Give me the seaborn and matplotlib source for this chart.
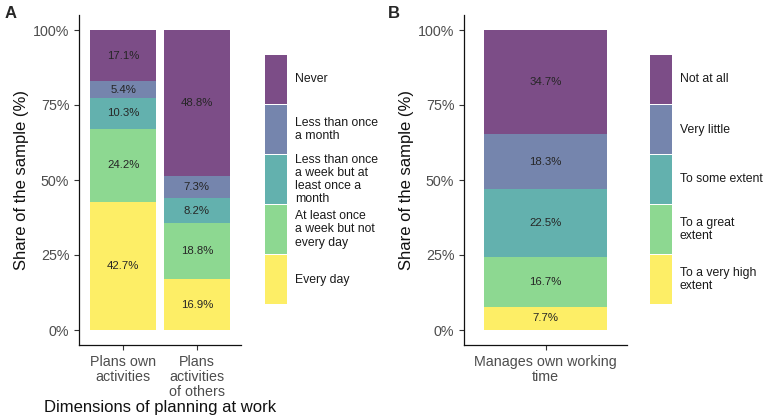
import numpy as np
import pandas as pd
import matplotlib
matplotlib.use('Agg')
import matplotlib.pyplot as plt
from matplotlib.patches import Rectangle
from matplotlib.ticker import PercentFormatter
import seaborn as sns

# Panel A data
items_a = ['Plans own\nactivities', 'Plans\nactivities\nof others']
levels_a = ['Never', 'Less than once\na month', 'Less than once\na week but at\nleast once a\nmonth',
            'At least once\na week but not\nevery day', 'Every day']
own_a = [17.1, 5.4, 10.3, 24.2, 42.7]
others_a = [48.8, 7.3, 8.2, 18.8, 16.9]

# Panel B data
items_b = ['Manages own working\ntime']
levels_b = ['Not at all', 'Very little', 'To some extent', 'To a great\nextent', 'To a very high\nextent']
manages_b = [34.7, 18.3, 22.5, 16.7, 7.7]

colors = ['#440154', '#3B528B', '#21908C', '#5DC863', '#FDE725']

sns.set_style('ticks')
plt.rcParams['font.family'] = ['Liberation Sans', 'DejaVu Sans']

df_a = pd.DataFrame({'item': np.repeat(items_a, 5),
                     'level': levels_a * 2,
                     'value': own_a + others_a})
df_b = pd.DataFrame({'item': np.repeat(items_b, 5),
                     'level': levels_b,
                     'value': manages_b})

fig = plt.figure(figsize=(7.67, 4.16), dpi=100)
ax_a = fig.add_axes([79/767, 1-345/416, 162/767, 330/416])
ax_b = fig.add_axes([464/767, 1-345/416, 163/767, 330/416])


def draw_panel(ax, df, items, levels, xlim):
    pal = dict(zip(levels, colors))
    sns.histplot(data=df, x='item', hue='level', weights='value', hue_order=levels,
                 multiple='fill', discrete=True, shrink=0.9, palette=pal, alpha=0.7,
                 linewidth=0, legend=False, ax=ax)
    # labels in the middle of each segment
    for i, it in enumerate(items):
        sub = df[df['item'] == it].set_index('level').loc[levels[::-1], 'value']
        share = sub / sub.sum()
        mids = share.cumsum() - share / 2
        for lev in levels:
            ax.text(i, mids[lev], f'{sub[lev]:.1f}%', ha='center', va='center',
                    fontsize=8.2, color='#262626')
    ax.set_xlim(*xlim)
    ax.set_ylim(-0.05, 1.05)
    ax.set_yticks([0, 0.25, 0.5, 0.75, 1])
    ax.yaxis.set_major_formatter(PercentFormatter(1, decimals=0))
    ax.set_xticks(range(len(items)))
    ax.set_xticklabels(items, linespacing=1.1)
    ax.tick_params(labelsize=10.3, labelcolor='#4D4D4D', color='#333333', length=3.5, width=0.8)
    for s in ['top', 'right']:
        ax.spines[s].set_visible(False)
    for s in ['left', 'bottom']:
        ax.spines[s].set_color('#111111')
        ax.spines[s].set_linewidth(0.9)
    ax.set_ylabel('Share of the sample (%)', fontsize=12, color='#111111', labelpad=3)


draw_panel(ax_a, df_a, items_a, levels_a, (-0.6, 1.6))
ax_a.set_xlabel('Dimensions of planning at work', fontsize=12, color='#111111', labelpad=1)
draw_panel(ax_b, df_b, items_b, levels_b, (-0.6, 0.6))
ax_b.set_xlabel('')


def draw_legend(x0, levels):
    # keys drawn in figure pixels, top to bottom
    for i, lev in enumerate(levels):
        top = 55 + i * 50
        fig.add_artist(Rectangle((x0 / 767, 1 - (top + 49) / 416), 22 / 767, 49 / 416,
                                 transform=fig.transFigure, facecolor=colors[i], alpha=0.7,
                                 edgecolor='none'))
        fig.text((x0 + 30) / 767, 1 - (top + 24.5) / 416, lev, ha='left', va='center',
                 fontsize=8.8, color='#1a1a1a', linespacing=1.12)


draw_legend(265, levels_a)
draw_legend(650, levels_b)

fig.text(5/767, 1 - 14/416, 'A', fontsize=12, fontweight='bold', va='center')
fig.text(388/767, 1 - 14/416, 'B', fontsize=12, fontweight='bold', va='center')

fig.savefig('out.png', dpi=100)
